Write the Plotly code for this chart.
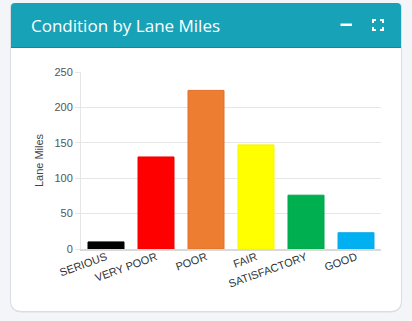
import plotly.graph_objects as go

categories = ["SERIOUS", "VERY POOR", "POOR", "FAIR", "SATISFACTORY", "GOOD"]
lane_miles = [10, 130, 224, 147, 76, 23]
bar_colors = ["#000000", "#ff0000", "#ed7d31", "#ffff00", "#00b050", "#00b0f0"]
border_colors = ["#000000", "#f00000", "#e0702a", "#f5f500", "#00a548", "#10a8e8"]
y_ticks = [0, 50, 100, 150, 200, 250]
title = "Condition by Lane Miles"
y_title = "Lane Miles"

W, H = 412, 321

def px(x):
    return x / W

def py(y):
    return 1 - y / H

def rounded_path(x0, y0, x1, y1, rt, rb):
    p = f"M {px(x0+rt)},{py(y0)} L {px(x1-rt)},{py(y0)} Q {px(x1)},{py(y0)} {px(x1)},{py(y0+rt)} "
    p += f"L {px(x1)},{py(y1-rb)} Q {px(x1)},{py(y1)} {px(x1-rb)},{py(y1)} "
    p += f"L {px(x0+rb)},{py(y1)} Q {px(x0)},{py(y1)} {px(x0)},{py(y1-rb)} "
    p += f"L {px(x0)},{py(y0+rt)} Q {px(x0)},{py(y0)} {px(x0+rt)},{py(y0)} Z"
    return p

shapes = []
# shadow
shapes.append(dict(type="path", xref="paper", yref="paper", layer="below",
                   path=rounded_path(10, 3, 402, 312.5, 4, 12),
                   fillcolor="#dcdde2", line=dict(width=0)))
# card
shapes.append(dict(type="path", xref="paper", yref="paper", layer="below",
                   path=rounded_path(11, 3, 401, 311, 4, 11),
                   fillcolor="#ffffff", line=dict(width=0)))
# header
hp = f"M {px(15)},{py(3)} L {px(397)},{py(3)} Q {px(401)},{py(3)} {px(401)},{py(7)} L {px(401)},{py(47)} L {px(11)},{py(47)} L {px(11)},{py(7)} Q {px(11)},{py(3)} {px(15)},{py(3)} Z"
shapes.append(dict(type="path", xref="paper", yref="paper", layer="below",
                   path=hp, fillcolor="#17a2b8", line=dict(width=0)))
shapes.append(dict(type="line", xref="paper", yref="paper", layer="below",
                   x0=px(11), x1=px(401), y0=py(47.5), y1=py(47.5),
                   line=dict(color="#138a9c", width=1)))
# minus icon
shapes.append(dict(type="rect", xref="paper", yref="paper",
                   x0=px(340.5), x1=px(352), y0=py(23.5), y1=py(26),
                   fillcolor="#ffffff", line=dict(width=0)))
# fullscreen icon: corner brackets
fx0, fx1, fy0, fy1, L = 373, 383, 20, 30, 3
for (cx, cy, dx, dy) in [(fx0, fy0, 1, 1), (fx1, fy0, -1, 1), (fx0, fy1, 1, -1), (fx1, fy1, -1, -1)]:
    shapes.append(dict(type="path", xref="paper", yref="paper",
                       path=f"M {px(cx+dx*L)},{py(cy)} L {px(cx)},{py(cy)} L {px(cx)},{py(cy+dy*L)}",
                       line=dict(color="#ffffff", width=2)))

fig = go.Figure()
fig.add_trace(go.Bar(
    x=categories, y=lane_miles,
    marker=dict(color=bar_colors, line=dict(color=border_colors, width=1)),
    hoverinfo="x+y",
))

fig.update_layout(
    width=W, height=H,
    margin=dict(l=0, r=0, t=0, b=0, autoexpand=False),
    paper_bgcolor="#f4f5f9",
    plot_bgcolor="rgba(0,0,0,0)",
    showlegend=False,
    bargap=0.28,
    shapes=shapes,
    font=dict(family="Liberation Sans, Arial, sans-serif", size=11, color="#555555"),
    xaxis=dict(
        domain=[px(81), px(381)],
        anchor="y",
        automargin=False,
        tickangle=-20,
        ticklabelstandoff=-4,
        showgrid=False,
        showline=True, linecolor="#d9d9d9", linewidth=1.5,
        ticks="", tickfont=dict(size=11, color="#333333"),
        fixedrange=True,
    ),
    yaxis=dict(
        domain=[py(249), py(72)],
        range=[0, 250],
        automargin=False,
        tickvals=y_ticks,
        showgrid=True, gridcolor="#e6e6e6", gridwidth=1,
        zeroline=False,
        showline=True, linecolor="#e6e6e6", linewidth=1,
        ticks="outside", ticklen=5, tickcolor="#e6e6e6",
        tickfont=dict(size=11, color="#555555"),
        title=dict(text=y_title, font=dict(size=11, color="#444444"), standoff=8),
        fixedrange=True,
    ),
    annotations=[
        dict(text=title, xref="paper", yref="paper", x=px(29), y=py(25),
             xanchor="left", yanchor="middle", showarrow=False,
             font=dict(family="Open Sans, sans-serif", size=17, color="#ffffff")),
    ],
)

fig.write_html("out.html", config={"displayModeBar": False})
